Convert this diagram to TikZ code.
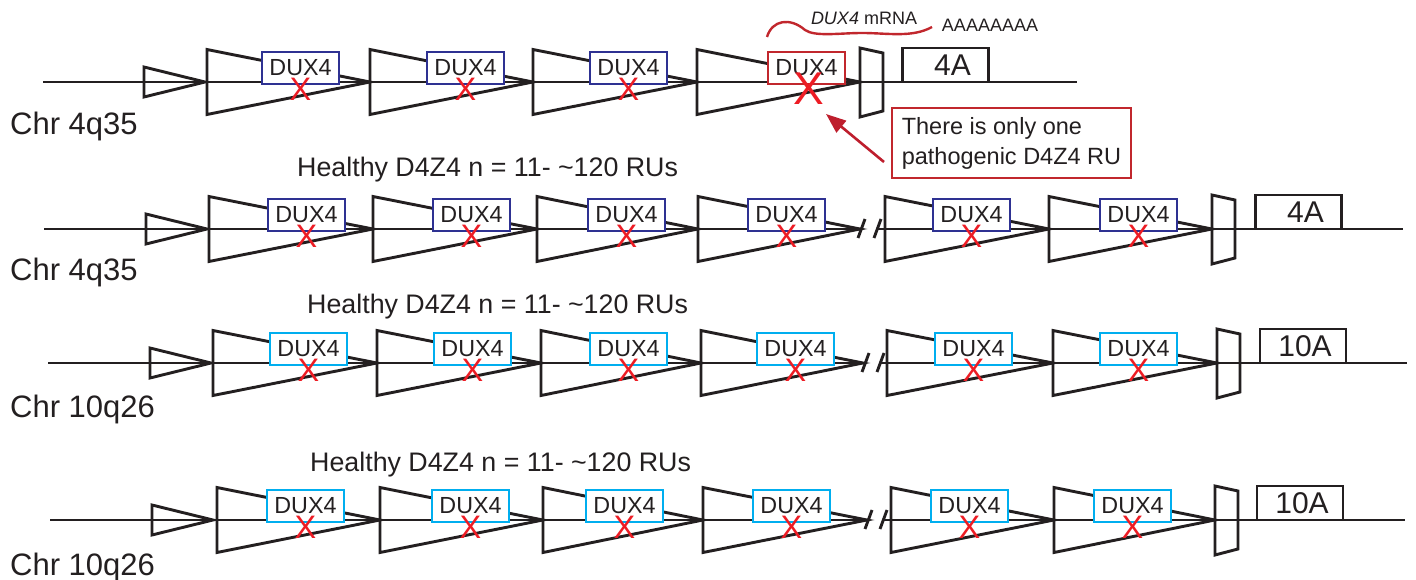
\documentclass[tikz,border=0pt]{standalone}
\usepackage{fontspec}
\setmainfont{Liberation Sans}
\usetikzlibrary{arrows.meta}
\definecolor{navy}{HTML}{2E3192}
\definecolor{cyanb}{HTML}{00AEEF}
\definecolor{redbox}{HTML}{C1272D}
\definecolor{xred}{HTML}{ED1C24}
\definecolor{arrred}{HTML}{BE1E2D}
\definecolor{ink}{HTML}{231F20}
% repeat unit: #1 name, #2 triangle left x, #3 tip x, #4 box left x, #5 line y, #6 box colour
\newcommand\ru[6]{%
  \draw[ln] (#2,#5-32.5) -- (#3,#5) -- (#2,#5+32.5) -- cycle;
  \node[dux,draw=#6] (#1b) at (#4+38.5,#5-14) {DUX4};
  \node[xm] (#1x) at (#4+38.5,#5+7.5) {X};
}
\newcommand\smalltri[3]{\draw[ln] (#1,#3-15) -- (#2,#3) -- (#1,#3+15) -- cycle;}
\newcommand\trapz[2]{\draw[ln] (#1,#2-34) -- (#1+23,#2-29) -- (#1+23,#2+29) -- (#1,#2+35) -- cycle;}
\newcommand\brkmark[2]{\draw[ln] (#1,#2+9) -- (#1+7,#2-10);}
\begin{document}
\begin{tikzpicture}[x=1pt,y=-1pt,
  ln/.style={draw=ink, line width=2.9pt, line join=miter},
  dux/.style={fill=white, line width=2.4pt, minimum width=77pt, minimum height=32pt,
    inner sep=0pt, text=ink, font=\fontsize{23.3}{23.3}\selectfont},
  xm/.style={text=xred, inner sep=0pt, font=\fontsize{32.5}{32.5}\selectfont},
  endbox/.style={draw=ink, fill=white, line width=2.8pt, minimum width=86pt, minimum height=34pt,
    inner sep=0pt, text=ink, font=\fontsize{30}{30}\selectfont},
  chr/.style={anchor=base west, inner sep=0pt, text=ink, font=\fontsize{31}{31}\selectfont},
  healthy/.style={anchor=base west, inner sep=0pt, text=ink, font=\fontsize{26.8}{26.8}\selectfont},
  small/.style={inner sep=0pt, text=ink, font=\fontsize{18}{18}\selectfont}]
\useasboundingbox (0,0) rectangle (1416,580);

% ---------- Row 1 : Chr 4q35 (pathogenic) ----------
\draw[ln] (43,82) -- (1077,82);
\smalltri{144}{205}{82}
\ru{r1a}{207}{370}{262}{82}{navy}
\ru{r1b}{370}{533}{427}{82}{navy}
\ru{r1c}{533}{697}{590}{82}{navy}
\draw[ln] (697,49.5) -- (860,82) -- (697,114.5) -- cycle;
\node[dux,draw=redbox] (r1db) at (806.5,68) {DUX4};
\node[text=xred, inner sep=0pt, font=\fontsize{46}{46}\selectfont] (r1dx) at (808.5,88.5) {X};
\trapz{860}{82}
\node[endbox] (r1end) at (945.5,65) {\hspace*{14pt}4A};
\node[chr] (lab1) at (10,135) {Chr 4q35};
% mRNA
\draw[draw=redbox, line width=2.4pt] (767,37) .. controls (772,20) and (790,17) .. (805,30)
  .. controls (815,37) and (840,33) .. (862,33) .. controls (888,33) and (912,38) .. (932,27);
\node[small] (mrna) at (864,18) {\textit{DUX4} mRNA};
\node[small] (polya) at (990,25) {AAAAAAAA};
% callout
\node[draw=redbox, line width=2.4pt, fill=white, text=ink, minimum width=239pt, minimum height=70pt,
  inner xsep=7pt, inner ysep=0pt, align=left, font=\fontsize{23.5}{30}\selectfont]
  (callout) at (1011.5,143) {There is only one\\pathogenic D4Z4 RU};
\coordinate (arrstart) at (884,162);
\coordinate (arrtip) at (826,114);
\draw[draw=arrred, line width=2.6pt, -{Triangle[length=20pt,width=15pt]}] (arrstart) -- (arrtip);

% ---------- Row 2 : Chr 4q35 healthy ----------
\node[healthy] (h2) at (297,177) {Healthy D4Z4 n = 11- \textasciitilde120 RUs};
\draw[ln] (44,229) -- (860,229);
\draw[ln] (877,229) -- (1403,229);
\smalltri{146}{207}{229}
\ru{r2a}{209}{373}{268}{229}{navy}
\ru{r2b}{373}{537}{433}{229}{navy}
\ru{r2c}{537}{698}{588}{229}{navy}
\ru{r2d}{698}{860}{748}{229}{navy}
\brkmark{858}{229}
\brkmark{874}{229}
\ru{r2e}{885}{1049}{933}{229}{navy}
\ru{r2f}{1049}{1212}{1100}{229}{navy}
\trapz{1212}{229}
\node[endbox] (r2end) at (1298.5,212) {\hspace*{14pt}4A};
\node[chr] (lab2) at (10,280) {Chr 4q35};

% ---------- Row 3 : Chr 10q26 ----------
\node[healthy] (h3) at (307,313) {Healthy D4Z4 n = 11- \textasciitilde120 RUs};
\draw[ln] (48,363) -- (863,363);
\draw[ln] (880,363) -- (1407,363);
\smalltri{150}{211}{363}
\ru{r3a}{213}{377}{270}{363}{cyanb}
\ru{r3b}{377}{541}{434}{363}{cyanb}
\ru{r3c}{541}{701}{590}{363}{cyanb}
\ru{r3d}{701}{863}{757}{363}{cyanb}
\brkmark{862}{363}
\brkmark{877}{363}
\ru{r3e}{887}{1053}{935}{363}{cyanb}
\ru{r3f}{1053}{1217}{1100}{363}{cyanb}
\trapz{1217}{363}
\node[endbox] (r3end) at (1303,346) {\hspace*{4pt}10A};
\node[chr] (lab3) at (10,417) {Chr 10q26};

% ---------- Row 4 : Chr 10q26 ----------
\node[healthy] (h4) at (310,471) {Healthy D4Z4 n = 11- \textasciitilde120 RUs};
\draw[ln] (50,520) -- (867,520);
\draw[ln] (883,520) -- (1405,520);
\smalltri{152}{213}{520}
\ru{r4a}{217}{380}{267}{520}{cyanb}
\ru{r4b}{380}{543}{432}{520}{cyanb}
\ru{r4c}{543}{703}{586}{520}{cyanb}
\ru{r4d}{703}{867}{753}{520}{cyanb}
\brkmark{865}{520}
\brkmark{880}{520}
\ru{r4e}{891}{1054}{931}{520}{cyanb}
\ru{r4f}{1054}{1215}{1094}{520}{cyanb}
\trapz{1215}{520}
\node[endbox] (r4end) at (1300,503) {\hspace*{4pt}10A};
\node[chr] (lab4) at (10,575) {Chr 10q26};
\end{tikzpicture}
\end{document}
